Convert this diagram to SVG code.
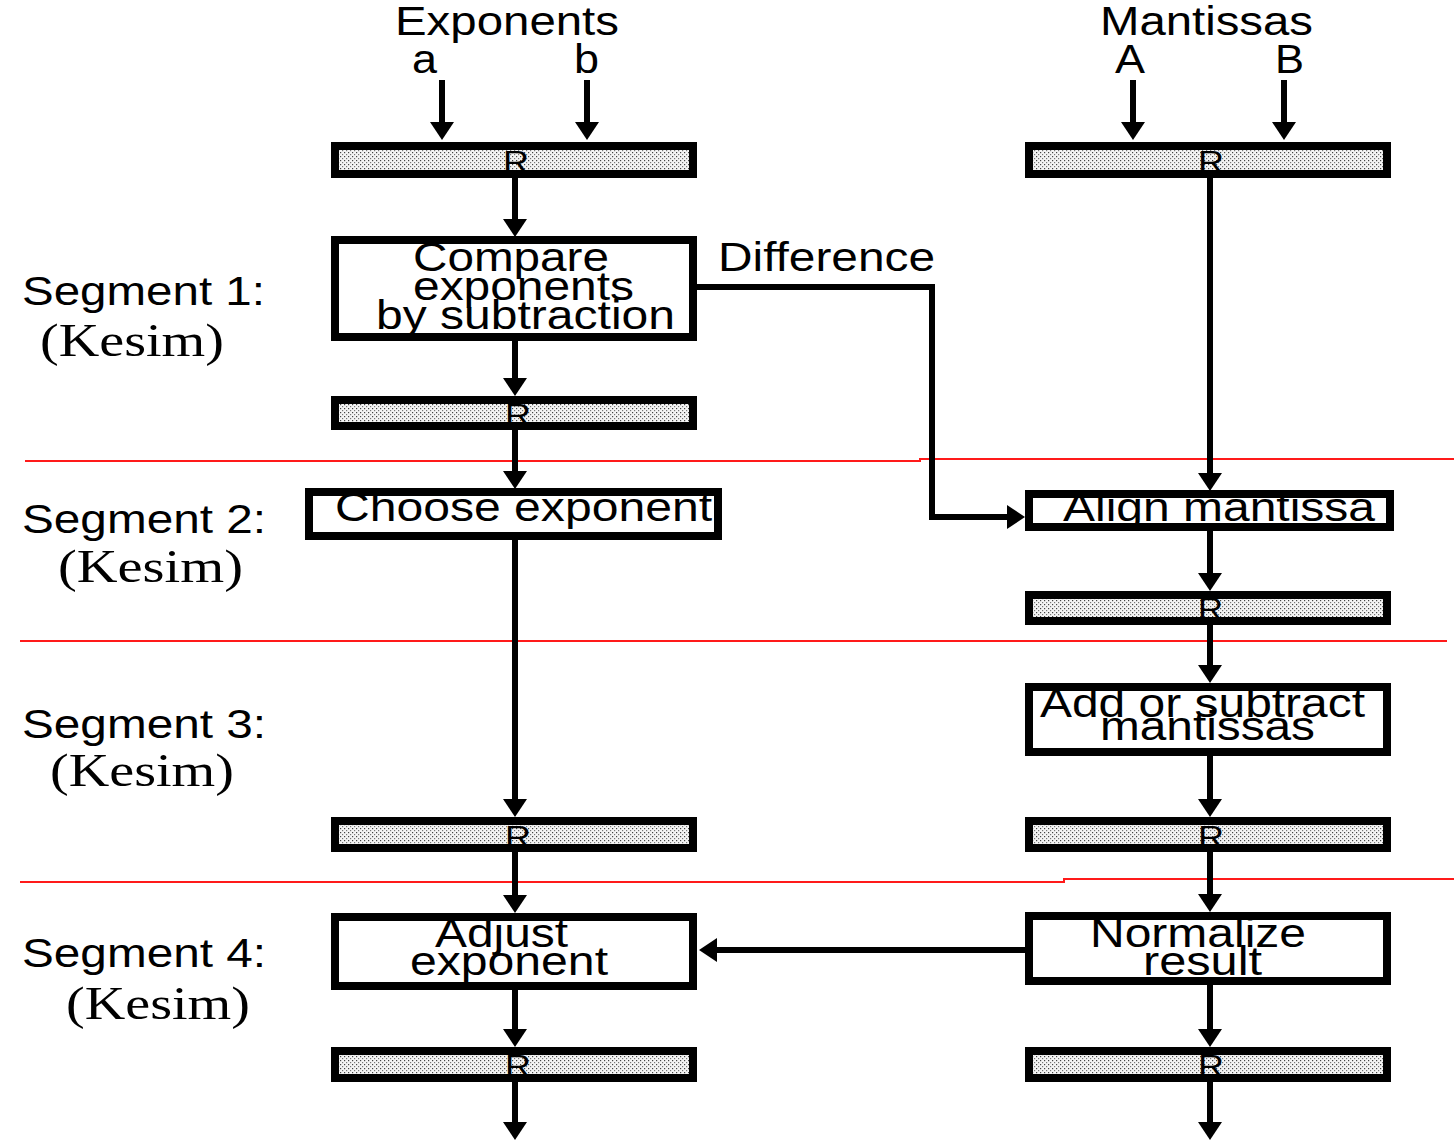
<svg xmlns="http://www.w3.org/2000/svg" width="1454" height="1140" viewBox="0 0 1454 1140">
  <style>
    .lbl { font-family: "Liberation Sans", Arial, sans-serif; font-size: 40px; fill: #000; }
    .ser { font-family: "Liberation Serif", "Times New Roman", serif; font-size: 46px; fill: #000; }
    .reg-r { font-family: "Liberation Sans", Arial, sans-serif; font-size: 32px; fill: #000; }
    .box { fill: #fff; stroke: #000; stroke-width: 8; }
    .reg { fill: url(#stipple); stroke: none; }
    .regb { fill: none; stroke: #000; stroke-width: 8; }
    .wire { fill: none; stroke: #000; stroke-width: 6; marker-end: url(#head); }
    .seg { fill: none; stroke: #ff1a1a; stroke-width: 2; }
  </style>
  <defs>
    <!-- stippled fill used inside the pipeline registers -->
    <pattern id="stipple" width="4" height="4" patternUnits="userSpaceOnUse">
      <rect width="4" height="4" fill="#f4f4f4"/>
      <rect x="0" y="0" width="1.2" height="1.2" fill="#444"/>
      <rect x="2" y="2" width="1.2" height="1.2" fill="#777"/>
    </pattern>
    <marker id="head" markerUnits="userSpaceOnUse" markerWidth="20" markerHeight="26" refX="2" refY="12" orient="auto">
      <path d="M0,0 L18,12 L0,24 z" fill="#000"/>
    </marker>
  </defs>

  <rect width="1454" height="1140" fill="#fff"/>

  <!-- segment separators -->
  <g id="separators">
    <path class="seg" d="M25,461 H920 V459 H1454"/>
    <path class="seg" d="M20,641 H1447"/>
    <path class="seg" d="M20,882 H1064 V879 H1454"/>
  </g>

  <!-- segment captions -->
  <g id="captions">
    <text class="lbl" x="22" y="305" textLength="243" lengthAdjust="spacingAndGlyphs">Segment 1:</text>
    <text class="ser" x="40" y="356" textLength="184" lengthAdjust="spacingAndGlyphs">(Kesim)</text>
    <text class="lbl" x="22" y="533" textLength="244" lengthAdjust="spacingAndGlyphs">Segment 2:</text>
    <text class="ser" x="58" y="582" textLength="185" lengthAdjust="spacingAndGlyphs">(Kesim)</text>
    <text class="lbl" x="22" y="738" textLength="244" lengthAdjust="spacingAndGlyphs">Segment 3:</text>
    <text class="ser" x="50" y="786" textLength="184" lengthAdjust="spacingAndGlyphs">(Kesim)</text>
    <text class="lbl" x="22" y="967" textLength="244" lengthAdjust="spacingAndGlyphs">Segment 4:</text>
    <text class="ser" x="66" y="1019" textLength="184" lengthAdjust="spacingAndGlyphs">(Kesim)</text>
  </g>

  <!-- input labels -->
  <g id="inputs">
    <text class="lbl" x="395" y="35" textLength="224" lengthAdjust="spacingAndGlyphs">Exponents</text>
    <text class="lbl" x="412" y="73" textLength="25" lengthAdjust="spacingAndGlyphs">a</text>
    <text class="lbl" x="574" y="73" textLength="25" lengthAdjust="spacingAndGlyphs">b</text>
    <text class="lbl" x="1100" y="35" textLength="213" lengthAdjust="spacingAndGlyphs">Mantissas</text>
    <text class="lbl" x="1115" y="73" textLength="30" lengthAdjust="spacingAndGlyphs">A</text>
    <text class="lbl" x="1275" y="73" textLength="29" lengthAdjust="spacingAndGlyphs">B</text>
  </g>

  <!-- connectors -->
  <g id="connectors">
    <line class="wire" x1="442" y1="80" x2="442" y2="124"/>
    <line class="wire" x1="587" y1="80" x2="587" y2="124"/>
    <line class="wire" x1="1133" y1="80" x2="1133" y2="124"/>
    <line class="wire" x1="1284" y1="80" x2="1284" y2="124"/>

    <line class="wire" x1="515" y1="178" x2="515" y2="221"/>
    <line class="wire" x1="515" y1="341" x2="515" y2="380"/>
    <line class="wire" x1="515" y1="430" x2="515" y2="473"/>
    <line class="wire" x1="515" y1="540" x2="515" y2="801"/>
    <line class="wire" x1="515" y1="852" x2="515" y2="897"/>
    <line class="wire" x1="515" y1="990" x2="515" y2="1031"/>
    <line class="wire" x1="515" y1="1082" x2="515" y2="1124"/>

    <line class="wire" x1="1210" y1="178" x2="1210" y2="475"/>
    <line class="wire" x1="1210" y1="531" x2="1210" y2="575"/>
    <line class="wire" x1="1210" y1="625" x2="1210" y2="667"/>
    <line class="wire" x1="1210" y1="756" x2="1210" y2="801"/>
    <line class="wire" x1="1210" y1="852" x2="1210" y2="896"/>
    <line class="wire" x1="1210" y1="985" x2="1210" y2="1031"/>
    <line class="wire" x1="1210" y1="1082" x2="1210" y2="1124"/>

    <!-- exponent difference routed to the alignment stage -->
    <polyline class="wire" points="697,287 932,287 932,517 1009,517"/>
    <text class="lbl" x="718" y="271" textLength="217" lengthAdjust="spacingAndGlyphs">Difference</text>

    <!-- normalization shift fed back to the exponent adjust -->
    <line class="wire" x1="1025" y1="950" x2="715" y2="950"/>
  </g>

  <!-- pipeline registers -->
  <g id="reg-exp-1">
    <rect class="reg" x="335" y="146" width="358" height="28"/>
    <text class="reg-r" x="503" y="173" textLength="26" lengthAdjust="spacingAndGlyphs">R</text>
    <rect class="regb" x="335" y="146" width="358" height="28"/>
  </g>
  <g id="reg-man-1">
    <rect class="reg" x="1029" y="146" width="358" height="28"/>
    <text class="reg-r" x="1198" y="173" textLength="26" lengthAdjust="spacingAndGlyphs">R</text>
    <rect class="regb" x="1029" y="146" width="358" height="28"/>
  </g>
  <g id="reg-exp-2">
    <rect class="reg" x="335" y="400" width="358" height="26"/>
    <text class="reg-r" x="505" y="426" textLength="26" lengthAdjust="spacingAndGlyphs">R</text>
    <rect class="regb" x="335" y="400" width="358" height="26"/>
  </g>
  <g id="reg-man-2">
    <rect class="reg" x="1029" y="595" width="358" height="26"/>
    <text class="reg-r" x="1198" y="620" textLength="25" lengthAdjust="spacingAndGlyphs">R</text>
    <rect class="regb" x="1029" y="595" width="358" height="26"/>
  </g>
  <g id="reg-exp-3">
    <rect class="reg" x="335" y="821" width="358" height="27"/>
    <text class="reg-r" x="505" y="848" textLength="26" lengthAdjust="spacingAndGlyphs">R</text>
    <rect class="regb" x="335" y="821" width="358" height="27"/>
  </g>
  <g id="reg-man-3">
    <rect class="reg" x="1029" y="821" width="358" height="27"/>
    <text class="reg-r" x="1198" y="848" textLength="26" lengthAdjust="spacingAndGlyphs">R</text>
    <rect class="regb" x="1029" y="821" width="358" height="27"/>
  </g>
  <g id="reg-exp-4">
    <rect class="reg" x="335" y="1051" width="358" height="27"/>
    <text class="reg-r" x="505" y="1077" textLength="26" lengthAdjust="spacingAndGlyphs">R</text>
    <rect class="regb" x="335" y="1051" width="358" height="27"/>
  </g>
  <g id="reg-man-4">
    <rect class="reg" x="1029" y="1051" width="358" height="27"/>
    <text class="reg-r" x="1198" y="1077" textLength="26" lengthAdjust="spacingAndGlyphs">R</text>
    <rect class="regb" x="1029" y="1051" width="358" height="27"/>
  </g>

  <!-- processing stages -->
  <g id="compare">
    <rect class="box" x="335" y="240" width="358" height="97"/>
    <text class="lbl" x="413" y="271" textLength="196" lengthAdjust="spacingAndGlyphs">Compare</text>
    <text class="lbl" x="413" y="300" textLength="221" lengthAdjust="spacingAndGlyphs">exponents</text>
    <text class="lbl" x="376" y="329" textLength="299" lengthAdjust="spacingAndGlyphs">by subtraction</text>
  </g>
  <g id="choose">
    <rect class="box" x="309" y="492" width="409" height="44"/>
    <text class="lbl" x="335" y="521" textLength="377" lengthAdjust="spacingAndGlyphs">Choose exponent</text>
  </g>
  <g id="align">
    <rect class="box" x="1029" y="494" width="361" height="33"/>
    <text class="lbl" x="1063" y="521" textLength="312" lengthAdjust="spacingAndGlyphs">Align mantissa</text>
  </g>
  <g id="addsub">
    <rect class="box" x="1029" y="687" width="358" height="65"/>
    <text class="lbl" x="1040" y="717" textLength="325" lengthAdjust="spacingAndGlyphs">Add or subtract</text>
    <text class="lbl" x="1100" y="740" textLength="215" lengthAdjust="spacingAndGlyphs">mantissas</text>
  </g>
  <g id="adjust">
    <rect class="box" x="335" y="917" width="358" height="69"/>
    <text class="lbl" x="435" y="947" textLength="133" lengthAdjust="spacingAndGlyphs">Adjust</text>
    <text class="lbl" x="410" y="975" textLength="198" lengthAdjust="spacingAndGlyphs">exponent</text>
  </g>
  <g id="normalize">
    <rect class="box" x="1029" y="916" width="358" height="65"/>
    <text class="lbl" x="1090" y="947" textLength="216" lengthAdjust="spacingAndGlyphs">Normalize</text>
    <text class="lbl" x="1143" y="975" textLength="119" lengthAdjust="spacingAndGlyphs">result</text>
  </g>
</svg>
